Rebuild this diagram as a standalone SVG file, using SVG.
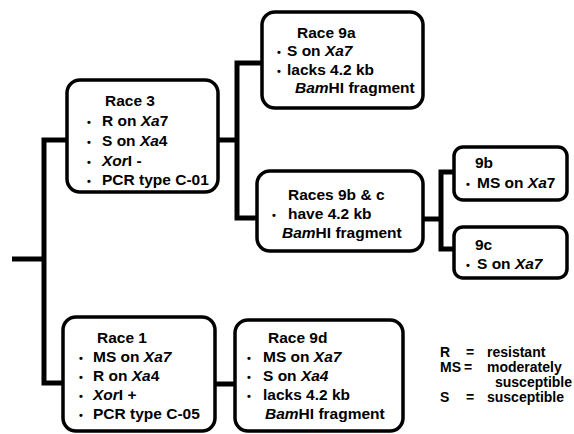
<svg xmlns="http://www.w3.org/2000/svg" width="574" height="434" viewBox="0 0 574 434">
<style>
  .box { fill: #fff; stroke: #000; stroke-width: 3.5; }
  .con { fill: none; stroke: #000; stroke-width: 5; stroke-linejoin: miter; stroke-linecap: butt; }
  text { font-family: "Liberation Sans", Arial, sans-serif; font-weight: bold; font-size: 15.5px; fill: #000; }
  .b { font-size: 11px; }
  .i { font-style: italic; }
  .lg { font-size: 14px; }
</style>
<rect width="574" height="434" fill="#fff"/>
<g id="connectors">
  <path class="con" d="M12 259 H44"/>
  <path class="con" d="M67 140 H44 V383 H63"/>
  <path class="con" d="M218 140 H237"/>
  <path class="con" d="M262 63 H237 V218 H257"/>
  <path class="con" d="M423 219 H441"/>
  <path class="con" d="M454 172 H441 V249 H454"/>
  <path class="con" d="M215 384 H235"/>
</g>
<g id="race3">
  <rect class="box" x="67" y="80" width="151" height="112" rx="13"/>
  <text x="105" y="106">Race 3</text>
  <text x="87" y="126" class="b">•</text><text x="102" y="126">R on <tspan class="i">Xa</tspan>7</text>
  <text x="87" y="146" class="b">•</text><text x="102" y="146">S on <tspan class="i">Xa</tspan>4</text>
  <text x="87" y="166" class="b">•</text><text x="102" y="166"><tspan class="i">Xor</tspan>I -</text>
  <text x="87" y="185" class="b">•</text><text x="102" y="185">PCR type C-01</text>
</g>
<g id="race9a">
  <rect class="box" x="262" y="12" width="161" height="96" rx="13"/>
  <text x="297" y="38">Race 9a</text>
  <text x="277" y="56" class="b">•</text><text x="287" y="56">S on <tspan class="i">Xa7</tspan></text>
  <text x="277" y="75" class="b">•</text><text x="287" y="75">lacks 4.2 kb</text>
  <text x="295" y="93"><tspan class="i">Bam</tspan>HI fragment</text>
</g>
<g id="race9bc">
  <rect class="box" x="257" y="171" width="166" height="80" rx="13"/>
  <text x="288" y="200">Races 9b &amp; c</text>
  <text x="272" y="219" class="b">•</text><text x="288" y="219">have 4.2 kb</text>
  <text x="282" y="238"><tspan class="i">Bam</tspan>HI fragment</text>
</g>
<g id="race9b">
  <rect class="box" x="454" y="147" width="113" height="53" rx="9"/>
  <text x="475" y="168">9b</text>
  <text x="466" y="188" class="b">•</text><text x="477" y="188">MS on <tspan class="i">Xa</tspan>7</text>
</g>
<g id="race9c">
  <rect class="box" x="454" y="227" width="113" height="51" rx="9"/>
  <text x="475" y="250">9c</text>
  <text x="466" y="269" class="b">•</text><text x="477" y="269">S on <tspan class="i">Xa7</tspan></text>
</g>
<g id="race1">
  <rect class="box" x="63" y="317" width="152" height="114" rx="13"/>
  <text x="97" y="343">Race 1</text>
  <text x="79" y="362" class="b">•</text><text x="93" y="362">MS on <tspan class="i">Xa7</tspan></text>
  <text x="79" y="381" class="b">•</text><text x="93" y="381">R on <tspan class="i">Xa</tspan>4</text>
  <text x="79" y="400" class="b">•</text><text x="93" y="400"><tspan class="i">Xor</tspan>I +</text>
  <text x="79" y="419" class="b">•</text><text x="93" y="419">PCR type C-05</text>
</g>
<g id="race9d">
  <rect class="box" x="235" y="320" width="168" height="111" rx="13"/>
  <text x="268" y="343">Race 9d</text>
  <text x="247" y="362" class="b">•</text><text x="263" y="362">MS on <tspan class="i">Xa7</tspan></text>
  <text x="247" y="381" class="b">•</text><text x="263" y="381">S on <tspan class="i">Xa4</tspan></text>
  <text x="247" y="400" class="b">•</text><text x="263" y="400">lacks 4.2 kb</text>
  <text x="265" y="419"><tspan class="i">Bam</tspan>HI fragment</text>
</g>
<g id="legend">
  <text class="lg" x="440" y="357">R</text><text class="lg" x="466" y="357">=</text><text class="lg" x="487" y="357">resistant</text>
  <text class="lg" x="440" y="372">MS</text><text class="lg" x="464" y="372">=</text><text class="lg" x="487" y="372">moderately</text>
  <text class="lg" x="495" y="387">susceptible</text>
  <text class="lg" x="440" y="402">S</text><text class="lg" x="466" y="402">=</text><text class="lg" x="487" y="402">susceptible</text>
</g>
</svg>
